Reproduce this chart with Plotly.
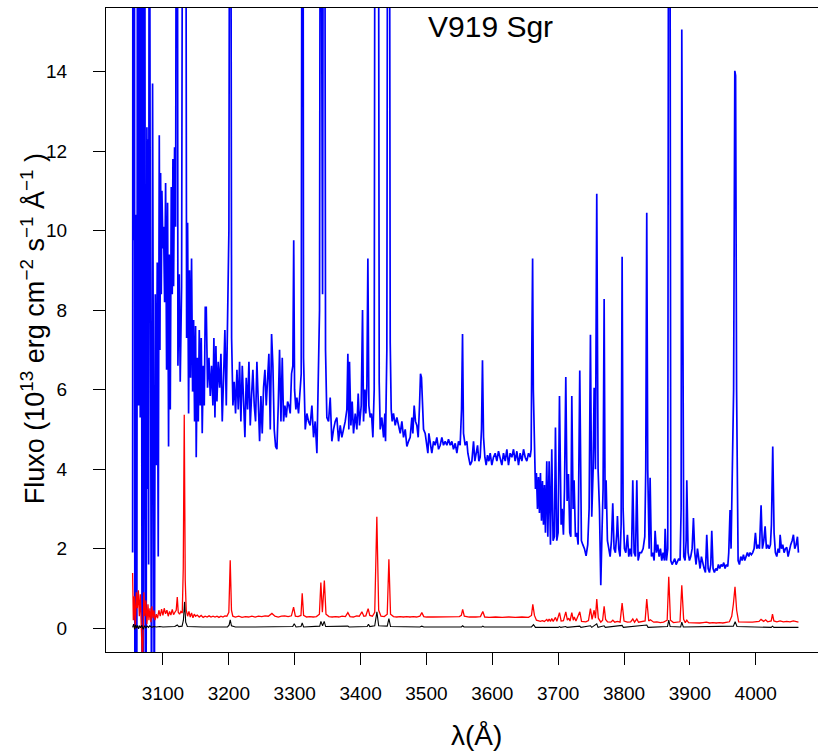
import plotly.graph_objects as go

# ---------------- data (wavelength in Angstrom, flux in 1e-13 erg/cm2/s/A) ----------------
blue_pts = [
    (3053.9, 1.9), (3054.4, 25), (3055.4, 9.76), (3056.4, 25), (3057.4, -3), (3058.9, 10.4),
    (3060.2, -3), (3061.5, 25), (3063.0, 5.6), (3064.5, 25), (3065.5, 5.3), (3066.7, 25),
    (3068.3, -3), (3069.4, 25), (3070.6, -3), (3072.1, 25), (3073.2, 5.2), (3074.3, -3),
    (3075.6, 12.6), (3076.5, 3.5), (3077.4, 12.3), (3078.2, 1.6), (3079.2, 25), (3080.7, 10.1),
    (3081.7, 3.1), (3082.7, -3), (3084.2, 13.7), (3085.8, 5.2), (3086.8, -3), (3088.3, 8.4),
    (3089.8, 4.1), (3091.3, 9.2), (3092.8, 1.8), (3094.4, 12.4), (3095.4, 7.0), (3096.4, 11.45),
    (3097.4, 8.4), (3098.4, 11.0), (3099.9, 9.55), (3100.9, 10.1), (3102.5, 8.2), (3104.0, 11.2),
    (3105.5, 6.5), (3107.0, 10.7), (3108.5, 4.57), (3109.5, 9.4), (3111.1, 5.5), (3112.6, 11.1),
    (3114.1, 8.4), (3115.1, 11.8), (3116.1, 8.6), (3117.6, 12.1), (3119.2, 10.1), (3120.7, 25),
    (3121.7, 25), (3122.7, 6.6), (3124.7, 8.9), (3126.2, 6.2), (3128.3, 8.6), (3130.3, 25),
    (3132.3, 25), (3134.3, 25), (3135.9, 7.3), (3137.4, 10.2), (3138.9, 5.4), (3140.4, 9.0),
    (3141.9, 6.3), (3143.4, 9.3), (3145.0, 5.95), (3146.5, 7.75), (3148.0, 5.2), (3149.5, 7.6),
    (3150.5, 4.3), (3152.0, 6.8), (3153.6, 5.2), (3155.1, 7.5), (3156.6, 5.6), (3158.1, 7.3),
    (3159.6, 4.9), (3161.2, 6.6), (3162.7, 5.6), (3164.2, 8.07), (3165.7, 8.07), (3167.7, 6.05),
    (3169.8, 6.8), (3171.8, 5.84), (3173.8, 6.6), (3175.8, 5.6), (3177.3, 7.3), (3178.9, 5.3),
    (3180.4, 7.1), (3181.9, 5.7), (3183.9, 6.7), (3186.0, 6.05), (3188.0, 6.9), (3190.0, 5.2),
    (3192.0, 6.3), (3194.0, 7.5), (3196.1, 5.6), (3198.6, 8.4), (3200.1, 10.0), (3201.6, 25),
    (3202.6, 25), (3204.2, 7.3), (3206.2, 5.6), (3208.2, 6.2), (3210.2, 5.4), (3212.3, 6.5),
    (3214.3, 5.5), (3216.3, 6.7), (3218.3, 5.2), (3220.4, 6.6), (3222.4, 5.6), (3224.4, 4.8),
    (3226.4, 6.3), (3228.5, 5.5), (3230.5, 6.7), (3232.5, 5.1), (3234.5, 5.84), (3236.5, 6.5),
    (3238.6, 5.6), (3240.6, 5.2), (3242.6, 6.7), (3244.6, 5.6), (3246.7, 4.7), (3248.7, 5.84),
    (3250.7, 4.9), (3252.7, 6.05), (3254.8, 6.5), (3256.8, 5.6), (3258.8, 6.5), (3260.8, 6.9),
    (3262.9, 5.0), (3264.9, 7.4), (3266.9, 6.6), (3268.9, 5.0), (3271.0, 4.57), (3273.0, 4.5),
    (3275.0, 5.6), (3277.0, 7.0), (3279.1, 5.2), (3281.1, 6.8), (3283.1, 5.2), (3285.1, 5.6),
    (3287.2, 5.3), (3289.2, 5.7), (3291.2, 5.6), (3293.2, 5.4), (3295.2, 6.4), (3297.2, 6.6),
    (3298.5, 9.76), (3299.8, 6.0), (3301.8, 5.5), (3303.3, 5.8), (3305.8, 5.4), (3308.4, 5.9),
    (3309.9, 6.4), (3311.4, 25), (3312.4, 25), (3313.4, 6.8), (3316.0, 5.0), (3318.5, 5.4),
    (3321.0, 5.2), (3323.5, 5.1), (3326.1, 5.6), (3328.6, 4.8), (3331.1, 5.2), (3333.7, 4.4),
    (3335.2, 5.7), (3337.7, 8.0), (3339.2, 25), (3340.7, 25), (3342.3, 8.4), (3343.8, 25),
    (3345.3, 25), (3346.8, 7.0), (3348.8, 5.3), (3351.4, 5.2), (3353.9, 5.8), (3356.4, 4.7),
    (3359.0, 5.0), (3361.5, 5.2), (3364.0, 5.3), (3366.6, 4.7), (3369.1, 5.1), (3371.6, 4.8),
    (3374.1, 5.0), (3376.7, 5.2), (3379.2, 5.5), (3380.7, 6.9), (3382.2, 5.0), (3383.2, 6.7),
    (3385.3, 5.1), (3387.3, 5.7), (3389.3, 4.9), (3391.9, 5.4), (3394.4, 5.0), (3396.4, 5.9),
    (3398.4, 5.1), (3401.0, 5.6), (3403.0, 8.0), (3404.5, 5.2), (3406.5, 6.0), (3408.0, 5.4),
    (3409.6, 6.1), (3411.1, 9.3), (3412.6, 5.6), (3414.6, 5.3), (3416.6, 5.4), (3418.7, 4.8),
    (3420.7, 6.0), (3422.2, 25), (3424.2, 25), (3425.8, 25), (3426.8, 25), (3428.3, 6.2),
    (3429.8, 5.0), (3432.3, 5.3), (3434.9, 4.8), (3436.9, 5.4), (3437.9, 4.7), (3439.9, 7.0),
    (3441.4, 25), (3443.5, 25), (3445.0, 7.2), (3446.5, 5.5), (3448.0, 5.2), (3450.0, 5.4),
    (3452.6, 5.1), (3455.1, 5.3), (3457.6, 5.1), (3460.2, 4.9), (3462.7, 5.2), (3465.2, 4.8),
    (3467.8, 5.0), (3470.3, 4.57), (3472.8, 4.7), (3475.3, 4.8), (3477.9, 5.3), (3479.4, 4.9),
    (3481.4, 5.6), (3483.4, 5.2), (3485.5, 5.1), (3487.5, 4.8), (3489.5, 5.6), (3491.0, 6.4),
    (3492.5, 6.3), (3494.1, 5.4), (3495.6, 5.0), (3498.1, 4.9), (3500.6, 4.57), (3502.2, 4.4),
    (3503.7, 4.9), (3505.7, 4.7), (3508.2, 4.4), (3510.8, 4.7), (3513.3, 4.6), (3515.8, 4.8),
    (3518.4, 4.5), (3520.9, 4.6), (3523.4, 4.8), (3525.9, 4.6), (3528.5, 4.7), (3531.0, 4.6),
    (3533.5, 4.75), (3536.1, 4.6), (3538.6, 4.7), (3541.1, 4.5), (3543.7, 4.65), (3546.2, 4.4),
    (3548.7, 4.7), (3551.2, 4.6), (3553.3, 5.5), (3554.8, 7.4), (3556.3, 4.9), (3558.8, 4.6),
    (3561.4, 4.7), (3562.9, 4.4), (3564.4, 4.3), (3566.4, 4.1), (3569.0, 4.2), (3571.5, 4.7),
    (3573.5, 4.2), (3575.5, 4.4), (3577.6, 4.6), (3579.6, 4.2), (3581.6, 4.3), (3583.6, 5.0),
    (3585.1, 6.74), (3586.7, 4.8), (3588.7, 4.3), (3590.7, 4.1), (3592.7, 4.35), (3594.8, 4.2),
    (3596.8, 4.4), (3599.3, 4.1), (3601.8, 4.3), (3604.4, 4.4), (3606.9, 4.2), (3609.4, 4.45),
    (3612.0, 4.3), (3614.5, 4.1), (3617.0, 4.4), (3619.6, 4.2), (3622.1, 4.5), (3624.6, 4.1),
    (3627.1, 4.4), (3629.7, 4.3), (3632.2, 4.5), (3634.7, 4.2), (3637.3, 4.45), (3639.8, 4.1),
    (3642.3, 4.4), (3644.9, 4.2), (3647.4, 4.5), (3649.9, 4.3), (3652.4, 4.2), (3655.0, 4.4),
    (3657.5, 4.3), (3659.0, 4.5), (3660.0, 7.0), (3661.2, 9.3), (3662.3, 6.0), (3664.0, 4.15),
    (3665.5, 3.5), (3667.0, 3.9), (3668.6, 3.0), (3670.1, 3.8), (3671.6, 2.9), (3673.1, 3.9),
    (3674.7, 2.7), (3676.2, 3.7), (3677.7, 2.6), (3679.2, 3.6), (3680.7, 2.4), (3682.7, 4.2),
    (3684.3, 2.3), (3686.3, 4.2), (3688.3, 2.1), (3690.3, 4.5), (3692.3, 2.2), (3694.3, 2.3),
    (3695.9, 5.05), (3697.9, 2.2), (3699.9, 2.4), (3702.0, 5.84), (3704.5, 2.6), (3706.0, 3.0),
    (3708.0, 2.35), (3709.6, 3.5), (3711.6, 6.32), (3713.6, 3.2), (3715.6, 3.88), (3717.6, 2.4),
    (3719.2, 2.3), (3720.7, 5.84), (3722.7, 3.0), (3724.2, 3.72), (3726.2, 2.3), (3728.3, 2.4),
    (3730.3, 2.1), (3732.8, 6.48), (3735.3, 2.2), (3737.4, 2.1), (3739.9, 2.0), (3742.4, 1.82),
    (3744.9, 2.1), (3747.0, 3.0), (3749.0, 7.38), (3751.0, 2.8), (3753.1, 4.0), (3754.6, 6.05),
    (3756.6, 4.0), (3758.6, 10.93), (3760.6, 4.0), (3762.7, 3.0), (3764.7, 1.08), (3766.7, 2.5),
    (3768.2, 3.5), (3769.8, 8.28), (3771.3, 3.0), (3772.8, 3.72), (3774.8, 2.2), (3776.9, 2.0),
    (3778.9, 1.8), (3780.9, 2.2), (3782.9, 3.14), (3784.9, 2.0), (3786.9, 1.9), (3789.0, 2.4),
    (3790.0, 2.82), (3792.0, 2.0), (3794.0, 1.8), (3795.6, 2.6), (3797.1, 9.34), (3798.6, 3.0),
    (3800.6, 2.0), (3802.7, 1.9), (3805.2, 2.35), (3807.2, 1.8), (3809.2, 2.0), (3811.3, 1.8),
    (3813.3, 3.72), (3815.3, 1.9), (3817.4, 1.8), (3819.4, 3.72), (3821.4, 1.7), (3823.9, 1.9),
    (3826.5, 1.9), (3829.0, 2.0), (3831.5, 2.3), (3833.0, 4.0), (3834.5, 10.45), (3836.0, 4.0),
    (3838.1, 2.0), (3839.6, 3.78), (3841.6, 1.8), (3843.7, 1.9), (3845.7, 1.7), (3847.2, 2.45),
    (3849.2, 1.9), (3851.2, 2.1), (3853.3, 1.8), (3855.3, 2.0), (3857.3, 1.7), (3859.3, 1.9),
    (3861.4, 1.7), (3862.4, 2.5), (3864.4, 1.7), (3866.4, 2.0), (3867.9, 25), (3869.4, 25),
    (3871.0, 1.7), (3873.0, 1.6), (3875.0, 1.7), (3877.0, 1.75), (3879.1, 1.6), (3881.1, 1.7),
    (3883.1, 1.75), (3885.1, 1.7), (3886.7, 3.0), (3887.7, 15.06), (3889.2, 5.0), (3890.7, 1.8),
    (3892.7, 1.7), (3894.3, 2.2), (3895.3, 3.72), (3897.3, 1.9), (3899.3, 1.7), (3901.3, 1.8),
    (3903.4, 2.0), (3905.4, 2.77), (3907.4, 1.9), (3909.4, 1.6), (3911.5, 2.0), (3913.5, 1.7),
    (3915.5, 1.5), (3917.5, 1.8), (3919.6, 1.6), (3921.6, 1.5), (3923.6, 1.4), (3925.6, 2.35),
    (3927.7, 1.5), (3929.7, 1.4), (3931.7, 1.6), (3933.2, 2.45), (3935.2, 1.5), (3937.2, 1.4),
    (3939.3, 1.5), (3941.3, 1.45), (3943.3, 1.6), (3945.3, 1.5), (3947.4, 1.6), (3949.4, 1.55),
    (3951.4, 1.65), (3953.4, 1.5), (3955.5, 1.6), (3957.5, 1.55), (3959.0, 1.9), (3961.0, 2.97),
    (3962.5, 2.0), (3964.0, 3.3), (3966.4, 6.0), (3968.2, 14.02), (3969.4, 13.9), (3970.9, 6.0),
    (3972.3, 2.2), (3973.2, 1.7), (3975.2, 1.6), (3977.2, 1.8), (3979.3, 1.7), (3981.3, 1.85),
    (3983.3, 1.7), (3985.3, 1.8), (3987.3, 1.9), (3989.4, 1.8), (3991.4, 1.9), (3993.4, 1.85),
    (3995.4, 1.9), (3997.5, 2.0), (3999.5, 2.4), (4001.5, 2.0), (4003.5, 2.1), (4005.6, 2.0),
    (4008.1, 3.09), (4010.1, 2.0), (4012.2, 2.2), (4014.2, 2.56), (4016.2, 2.0), (4018.2, 2.1),
    (4020.3, 2.0), (4022.3, 2.1), (4023.8, 2.6), (4025.8, 4.57), (4027.8, 2.4), (4029.8, 1.9),
    (4031.9, 1.8), (4033.9, 2.0), (4035.9, 1.9), (4037.0, 2.35), (4039.0, 2.0), (4041.0, 2.1),
    (4043.0, 1.9), (4045.0, 2.0), (4047.1, 2.03), (4049.1, 1.8), (4051.1, 2.0), (4053.1, 2.1),
    (4055.2, 2.2), (4057.2, 2.35), (4059.2, 2.0), (4061.2, 2.1), (4063.3, 2.3), (4064.8, 1.9),
]

red_pts = [
    (3053.9, 1.39), (3055.0, 0.20), (3056.5, 0.80), (3058.0, 0.00), (3059.6, 0.90), (3061.1, 0.50),
    (3062.6, 0.95), (3064.1, 0.30), (3065.6, 0.85), (3067.2, 0.20), (3069.0, -1.0), (3071.0, 0.90),
    (3072.5, 0.30), (3074.0, 0.70), (3075.6, 0.10), (3077.2, 0.60), (3078.7, 0.20), (3080.2, 0.50),
    (3081.7, 0.15), (3083.2, 0.55), (3084.8, 0.25), (3086.3, 0.45), (3087.8, 0.20), (3089.8, 0.35),
    (3091.8, 0.25), (3093.8, 0.45), (3095.9, 0.30), (3097.9, 0.48), (3099.9, 0.32), (3101.9, 0.50),
    (3103.9, 0.36), (3106.0, 0.45), (3108.0, 0.30), (3110.0, 0.42), (3112.0, 0.33), (3114.1, 0.47),
    (3116.1, 0.34), (3118.1, 0.40), (3120.1, 0.45), (3121.7, 0.78), (3123.2, 0.40), (3125.2, 0.35),
    (3127.2, 0.42), (3129.3, 0.38), (3130.8, 1.5), (3132.3, 5.37), (3133.8, 1.2), (3135.3, 0.45),
    (3137.4, 0.30), (3139.4, 0.42), (3141.4, 0.28), (3143.4, 0.38), (3145.5, 0.26), (3147.5, 0.35),
    (3149.5, 0.30), (3152.0, 0.33), (3155.0, 0.28), (3158.0, 0.32), (3161.0, 0.27), (3164.0, 0.30),
    (3167.0, 0.28), (3170.0, 0.31), (3173.0, 0.28), (3176.0, 0.30), (3179.0, 0.28), (3182.0, 0.30),
    (3185.0, 0.27), (3188.0, 0.30), (3191.0, 0.28), (3194.0, 0.31), (3197.0, 0.30), (3200.0, 0.40),
    (3202.1, 1.71), (3204.0, 0.45), (3206.0, 0.30), (3210.0, 0.28), (3215.0, 0.30), (3220.0, 0.27),
    (3225.0, 0.29), (3230.0, 0.28), (3235.0, 0.30), (3240.0, 0.28), (3245.0, 0.30), (3250.0, 0.29),
    (3255.0, 0.31), (3260.0, 0.30), (3265.4, 0.37), (3270.0, 0.30), (3275.0, 0.28), (3280.0, 0.30),
    (3285.0, 0.31), (3290.0, 0.29), (3295.0, 0.31), (3298.3, 0.53), (3301.0, 0.30), (3305.0, 0.29),
    (3309.5, 0.32), (3311.4, 0.88), (3313.5, 0.32), (3318.0, 0.28), (3323.0, 0.29), (3328.0, 0.28),
    (3333.0, 0.29), (3337.5, 0.35), (3339.7, 1.15), (3342.0, 0.40), (3345.0, 1.20), (3347.5, 0.35),
    (3352.0, 0.29), (3357.0, 0.28), (3362.0, 0.29), (3367.0, 0.28), (3372.0, 0.30), (3377.0, 0.29),
    (3380.7, 0.39), (3384.0, 0.29), (3389.0, 0.28), (3394.0, 0.31), (3398.0, 0.30), (3402.0, 0.41),
    (3405.0, 0.30), (3408.0, 0.31), (3411.5, 0.49), (3414.0, 0.32), (3418.0, 0.30), (3421.5, 0.40),
    (3424.7, 2.80), (3427.5, 0.45), (3431.0, 0.30), (3436.0, 0.29), (3440.5, 0.35), (3443.0, 1.73),
    (3445.5, 0.35), (3450.0, 0.29), (3455.0, 0.28), (3460.0, 0.29), (3465.0, 0.28), (3470.0, 0.29),
    (3475.0, 0.28), (3480.0, 0.29), (3485.0, 0.28), (3490.0, 0.30), (3493.0, 0.39), (3496.0, 0.29),
    (3500.0, 0.28), (3510.0, 0.28), (3520.0, 0.28), (3530.0, 0.29), (3540.0, 0.28), (3550.0, 0.29),
    (3553.0, 0.32), (3555.0, 0.47), (3557.5, 0.30), (3565.0, 0.28), (3575.0, 0.28), (3582.0, 0.29),
    (3585.6, 0.42), (3588.5, 0.28), (3595.0, 0.27), (3605.0, 0.28), (3615.0, 0.27), (3625.0, 0.28),
    (3635.0, 0.27), (3645.0, 0.28), (3655.0, 0.27), (3659.5, 0.32), (3661.5, 0.60), (3664.0, 0.32),
    (3667.0, 0.20), (3670.0, 0.18), (3673.0, 0.17), (3676.0, 0.19), (3679.0, 0.17), (3682.7, 0.22),
    (3684.5, 0.17), (3686.3, 0.23), (3688.3, 0.17), (3690.3, 0.24), (3692.5, 0.17), (3695.9, 0.27),
    (3698.0, 0.17), (3702.0, 0.39), (3704.5, 0.18), (3708.0, 0.19), (3711.6, 0.41), (3714.0, 0.20),
    (3716.0, 0.25), (3718.0, 0.18), (3720.7, 0.39), (3723.0, 0.20), (3724.5, 0.28), (3727.0, 0.18),
    (3732.8, 0.41), (3735.5, 0.17), (3742.0, 0.16), (3746.0, 0.19), (3749.0, 0.49), (3751.5, 0.22),
    (3754.6, 0.45), (3756.6, 0.25), (3758.6, 0.73), (3761.0, 0.25), (3764.7, 0.15), (3767.5, 0.20),
    (3769.8, 0.55), (3772.0, 0.22), (3775.0, 0.16), (3780.0, 0.15), (3783.0, 0.20), (3786.0, 0.15),
    (3790.0, 0.17), (3794.0, 0.15), (3797.1, 0.63), (3800.0, 0.18), (3805.0, 0.15), (3810.0, 0.16),
    (3813.3, 0.23), (3816.0, 0.15), (3819.4, 0.23), (3822.0, 0.15), (3827.0, 0.16), (3832.0, 0.18),
    (3834.5, 0.73), (3837.5, 0.18), (3840.0, 0.21), (3845.0, 0.15), (3850.0, 0.16), (3855.0, 0.14),
    (3860.0, 0.15), (3865.5, 0.20), (3867.9, 1.29), (3870.5, 0.20), (3875.0, 0.14), (3880.0, 0.15),
    (3885.0, 0.16), (3887.7, 1.08), (3890.5, 0.22), (3893.0, 0.14), (3895.3, 0.20), (3898.0, 0.14),
    (3905.0, 0.13), (3910.0, 0.14), (3915.0, 0.13), (3920.0, 0.14), (3925.0, 0.15), (3930.0, 0.13),
    (3935.0, 0.14), (3940.0, 0.13), (3945.0, 0.14), (3950.0, 0.13), (3955.0, 0.14), (3960.0, 0.16),
    (3963.5, 0.30), (3966.0, 0.60), (3968.5, 1.04), (3971.0, 0.45), (3974.0, 0.16), (3980.0, 0.15),
    (3985.0, 0.14), (3990.0, 0.15), (3995.0, 0.15), (4000.0, 0.16), (4005.0, 0.17), (4008.0, 0.22),
    (4012.0, 0.17), (4015.0, 0.21), (4018.0, 0.16), (4023.5, 0.18), (4025.4, 0.35), (4027.5, 0.18),
    (4032.0, 0.16), (4037.0, 0.18), (4042.0, 0.16), (4047.0, 0.17), (4052.0, 0.16), (4057.0, 0.18),
    (4062.0, 0.16), (4064.8, 0.15),
]

black_pts = [
    (3053.9, 0.02), (3055.5, 0.10), (3057.0, -0.03), (3058.5, 0.08), (3060.0, 0.00), (3061.5, 0.07),
    (3063.0, -0.02), (3064.5, 0.06), (3066.0, 0.01), (3068.0, 0.07), (3070.0, -0.03), (3072.0, 0.06),
    (3074.0, 0.01), (3076.0, 0.05), (3078.0, 0.02), (3080.0, 0.06), (3083.0, 0.02), (3086.0, 0.04),
    (3090.0, 0.03), (3095.0, 0.04), (3100.0, 0.03), (3110.0, 0.04), (3118.0, 0.04), (3121.7, 0.08),
    (3124.0, 0.04), (3129.0, 0.05), (3131.0, 0.20), (3132.8, 0.66), (3134.5, 0.15), (3137.0, 0.04),
    (3145.0, 0.03), (3160.0, 0.03), (3180.0, 0.03), (3198.0, 0.03), (3200.5, 0.08), (3202.1, 0.21),
    (3204.0, 0.06), (3210.0, 0.03), (3240.0, 0.03), (3270.0, 0.03), (3297.0, 0.04), (3299.3, 0.11),
    (3302.0, 0.03), (3309.5, 0.04), (3311.4, 0.13), (3313.5, 0.03), (3338.0, 0.05), (3339.8, 0.17),
    (3342.3, 0.06), (3344.8, 0.17), (3347.0, 0.04), (3380.7, 0.05), (3382.5, 0.03), (3410.0, 0.04),
    (3412.0, 0.10), (3414.0, 0.04), (3421.5, 0.06), (3424.8, 0.41), (3427.5, 0.06), (3440.5, 0.05),
    (3443.0, 0.24), (3445.5, 0.04), (3490.0, 0.03), (3493.0, 0.05), (3496.0, 0.03), (3553.0, 0.03),
    (3555.0, 0.06), (3557.0, 0.03), (3584.0, 0.03), (3585.6, 0.05), (3587.5, 0.03), (3659.5, 0.03),
    (3662.6, 0.09), (3665.5, 0.02), (3700.0, 0.02), (3702.0, 0.04), (3704.0, 0.02), (3711.6, 0.04),
    (3713.5, 0.02), (3732.8, 0.05), (3734.5, 0.02), (3749.0, 0.06), (3751.0, 0.02), (3758.6, 0.11),
    (3760.5, 0.02), (3769.8, 0.06), (3771.5, 0.02), (3797.1, 0.07), (3799.0, 0.02), (3834.5, 0.08),
    (3836.5, 0.02), (3866.0, 0.04), (3867.9, 0.20), (3870.0, 0.04), (3886.0, 0.03), (3887.7, 0.15),
    (3890.0, 0.03), (3966.0, 0.05), (3968.7, 0.16), (3971.5, 0.04), (4023.5, 0.02), (4025.4, 0.05),
    (4027.5, 0.02), (4064.8, 0.02),
]

x_ticks = [3100, 3200, 3300, 3400, 3500, 3600, 3700, 3800, 3900, 4000]
y_ticks = [0, 2, 4, 6, 8, 10, 12, 14]
title_text = "V919 Sgr"
x_title = "λ(Å)"
y_title = "Fluxo (10<sup>13</sup> erg cm<sup>−2</sup> s<sup>−1</sup> Å<sup>−1</sup> )"

# ---------------- figure ----------------
FONT = "Liberation Sans, Arial, Helvetica, sans-serif"
fig = go.Figure()
for pts, col, w in [(blue_pts, "#0000FF", 1.7), (red_pts, "#FF0000", 1.3), (black_pts, "#000000", 1.1)]:
    xs, ys = zip(*pts)
    fig.add_trace(go.Scatter(x=list(xs), y=list(ys), mode="lines",
                             line=dict(color=col, width=w), showlegend=False, hoverinfo="skip"))

fig.update_layout(
    width=818, height=752,
    margin=dict(l=106, r=0, t=8, b=100, pad=0),
    paper_bgcolor="white", plot_bgcolor="white",
    font=dict(family=FONT, color="black", size=19),
    xaxis=dict(range=[3013.5, 4094.5], tickmode="array", tickvals=x_ticks,
               ticktext=[str(v) for v in x_ticks],
               ticks="outside", ticklen=12, tickwidth=1, tickcolor="black",
               showline=True, linecolor="black", linewidth=1, mirror=True,
               showgrid=False, zeroline=False, ticklabelstandoff=12,
               tickfont=dict(size=19, family=FONT)),
    yaxis=dict(range=[-0.6, 15.6], tickmode="array", tickvals=y_ticks,
               ticktext=[str(v) for v in y_ticks],
               ticks="outside", ticklen=12, tickwidth=1, tickcolor="black",
               showline=True, linecolor="black", linewidth=1, mirror=False,
               showgrid=False, zeroline=False, ticklabelstandoff=22,
               tickfont=dict(size=19, family=FONT)),
    annotations=[
        dict(text=title_text, xref="paper", yref="paper", x=0.5407, y=0.972,
             xanchor="center", yanchor="middle", showarrow=False,
             font=dict(size=30, family=FONT)),
        dict(text=x_title, xref="paper", yref="paper", x=0.521, y=-0.129,
             xanchor="center", yanchor="middle", showarrow=False,
             font=dict(size=28, family=FONT)),
        dict(text=y_title, xref="paper", yref="paper", x=-0.1032, y=0.502,
             xanchor="center", yanchor="middle", showarrow=False, textangle=-90,
             font=dict(size=27, family=FONT)),
    ],
)

fig.write_html("out.html")
